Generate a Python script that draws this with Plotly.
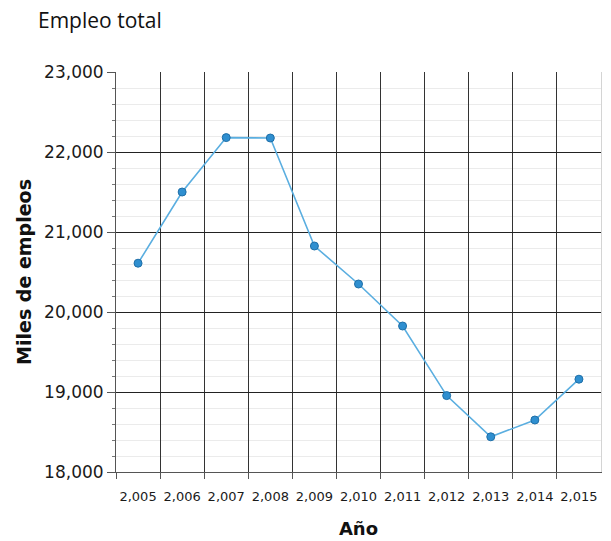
import plotly.graph_objects as go

# Empleo total, miles de empleos
years = [2005, 2006, 2007, 2008, 2009, 2010, 2011, 2012, 2013, 2014, 2015]
empleo = [20610, 21500, 22180, 22175, 20825, 20350, 19825, 18955, 18440, 18650, 19160]

# límites entre categorías (rejilla vertical)
bordes = [y - 0.5 for y in years] + [years[-1] + 0.5]

fig = go.Figure()
fig.add_trace(go.Scatter(
    x=years, y=empleo, mode='lines+markers',
    line=dict(color='#5aaee0', width=1.6),
    marker=dict(size=8, color='#2f8fd0', line=dict(color='#1f6fa8', width=1)),
    showlegend=False,
))
# trazas invisibles para que se dibujen los ejes auxiliares
fig.add_trace(go.Scatter(x=years[:1], y=empleo[:1], xaxis='x2', yaxis='y2',
                         mode='markers', opacity=0, showlegend=False, hoverinfo='skip'))

fig.update_layout(
    width=611, height=541,
    margin=dict(l=108, r=18, t=64, b=77),
    paper_bgcolor='white', plot_bgcolor='white',
    font=dict(family='DejaVu Sans', color='#222'),
    title=dict(
        text='Empleo total', xref='container', yref='container',
        x=30 / 611, xanchor='left', y=1 - 5 / 541, yanchor='top',
        font=dict(family='Open Sans', size=21, color='#111'),
    ),
    xaxis=dict(
        range=[2004.5, 2015.5],
        tickvals=bordes[:-1], showticklabels=False,
        showgrid=True, gridcolor='#333', gridwidth=1,
        ticks='outside', ticklen=6, tickcolor='#555',
        showline=True, linecolor='#555', linewidth=1,
        zeroline=False,
    ),
    xaxis2=dict(
        overlaying='x', side='bottom', matches='x',
        tickvals=years, tickformat=',d',
        tickfont=dict(size=13, color='#1a1a1a'),
        ticklabelstandoff=15,
        showgrid=False, ticks='', showline=False, zeroline=False,
        title=dict(text='<b>Año</b>', font=dict(size=18, color='#111'), standoff=19),
    ),
    yaxis=dict(
        range=[18000, 23000], dtick=1000, tickformat=',',
        tickfont=dict(size=17, color='#1a1a1a'),
        showgrid=True, gridcolor='#222', gridwidth=1,
        ticks='outside', ticklen=8, tickcolor='#555',
        showline=True, linecolor='#555', linewidth=1,
        minor=dict(dtick=200, showgrid=True, gridcolor='rgba(0,0,0,0.08)',
                   ticks='outside', ticklen=3, tickcolor='#777'),
        title=dict(text='<b>Miles de empleos</b>', font=dict(size=19, color='#111'), standoff=7),
        zeroline=False,
    ),
    yaxis2=dict(
        overlaying='y', side='right', matches='y',
        showticklabels=False, ticks='', showgrid=False, zeroline=False,
        showline=True, linecolor='#d4d4d4', linewidth=1,
    ),
)

fig.write_html('out.html')
